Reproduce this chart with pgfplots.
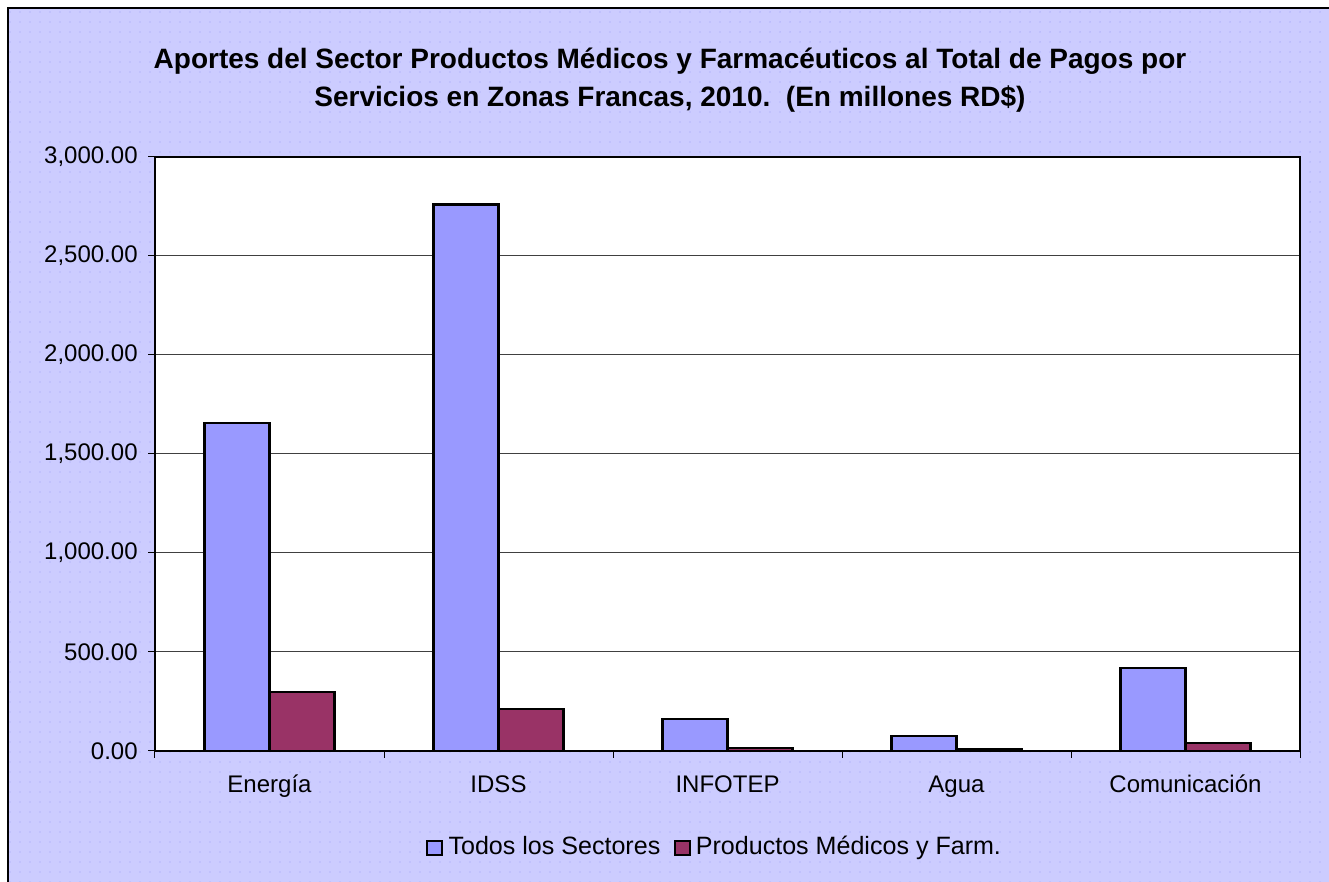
\documentclass[border=0pt]{standalone}
\usepackage{pgfplots}
\pgfplotsset{compat=1.18}
\usepackage{fontspec}
\setmainfont{Liberation Sans}
\usetikzlibrary{patterns}

\definecolor{fondo}{RGB}{204,204,255}
\definecolor{puntos}{RGB}{160,160,250}
\definecolor{todos}{RGB}{153,153,255}
\definecolor{medicos}{RGB}{153,51,102}

% textura de puntos del fondo
\pgfdeclarepatternformonly{puntitos}{\pgfqpoint{-1pt}{-1pt}}{\pgfqpoint{1pt}{1pt}}{\pgfqpoint{7.5pt}{7.5pt}}%
{\pgfpathcircle{\pgfqpoint{0pt}{0pt}}{0.55pt}\pgfusepath{fill}}

\begin{document}
\begin{tikzpicture}
\useasboundingbox (-116.25pt,-98.25pt) rectangle (880.5pt,563.25pt);
\fill[white] (-116.25pt,-98.25pt) rectangle (880.5pt,563.25pt);
\fill[fondo] (-110.25pt,-98.25pt) rectangle (880.5pt,557.25pt);
\fill[pattern=puntitos,pattern color=puntos] (-110.25pt,-98.25pt) rectangle (880.5pt,557.25pt);
\draw[black,line width=1.1pt] (-110.25pt,-98.25pt) -- (-110.25pt,557.25pt) -- (880.5pt,557.25pt);
\begin{axis}[
at={(0pt,0pt)},anchor=south west,
width=858.75pt,height=445.5pt,scale only axis,
axis background/.style={fill=white},
ybar=0pt,bar width=48.75pt,
xmin=-0.5,xmax=4.5,ymin=0,ymax=3000,
xtick={-0.5,0.5,...,4.5},
x tick label as interval,
xticklabels={Energía,IDSS,INFOTEP,Agua,Comunicación},
xticklabel style={anchor=base,yshift=-26pt},
ytick={0,500,...,3000},
tick pos=left,tick align=outside,major tick length=5pt,
tick style={black,line width=0.75pt},
axis line style={black,line width=0.9pt},
ymajorgrids=true,
major grid style={black!75,line width=0.75pt},
tick label style={font=\fontsize{18}{21}\selectfont},
yticklabel style={xshift=-4.5pt,/pgf/number format/.cd,fixed,fixed zerofill,precision=2,1000 sep={,},assume math mode=true},
title={Aportes del Sector Productos Médicos y Farmacéuticos al Total de Pagos por\\Servicios en Zonas Francas, 2010.\ \ (En millones RD\$)},
title style={align=center,anchor=center,at={(axis description cs:0.4498,1.116)},
  font=\fontsize{21}{28.5}\selectfont\bfseries},
legend style={at={(axis description cs:0.2367,-0.1633)},anchor=west,draw=none,fill=none,inner sep=0pt,
  legend columns=-1,font=\fontsize{18.8}{21}\selectfont,
  nodes={text height=14pt,text depth=4pt},
  /tikz/every odd column/.append style={column sep=2pt},
  /tikz/every even column/.append style={column sep=8pt}},
legend image code/.code={\draw[#1,line width=1.5pt] (0pt,-5.6pt) rectangle (11.2pt,5.6pt);},
]
\addplot[draw=black,line width=1.6pt,fill=todos]
coordinates {(0,1655) (1,2760) (2,162) (3,75) (4,420)};
\addplot[draw=black,line width=1.6pt,fill=medicos]
coordinates {(0,300) (1,210) (2,17) (3,10) (4,39)};
\legend{Todos los Sectores,Productos Médicos y Farm.}
\end{axis}
\end{tikzpicture}
\end{document}
